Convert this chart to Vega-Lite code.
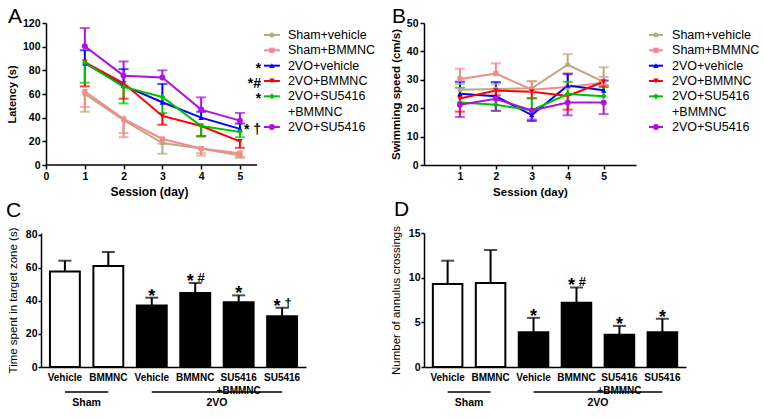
{
  "$schema": "https://vega.github.io/schema/vega-lite/v6.json",
  "background": "white",
  "padding": {"left": 6, "top": 6, "right": 0, "bottom": 0},
  "config": {
    "font": "Liberation Sans",
    "view": {"stroke": null},
    "legend": {"disable": true},
    "axis": {"grid": false, "labelOverlap": false, "labelFont": "Liberation Sans", "labelFontWeight": "bold", "labelFontSize": 10.5, "labelColor": "black", "titleFont": "Liberation Sans", "titleFontWeight": "bold", "titleFontSize": 12, "titleColor": "black", "domainColor": "black", "domainWidth": 1.5, "tickColor": "black", "tickWidth": 1.5, "tickSize": 4, "labelPadding": 2, "titlePadding": 5},
    "title": {"font": "Liberation Sans", "fontWeight": "normal", "fontSize": 21, "color": "black", "anchor": "start", "frame": "group", "offset": 0},
    "text": {"font": "Liberation Sans", "color": "black"}
  },
  "datasets": {
    "latency": [
      {"group": "Sham+vehicle", "day": 1, "mean": 60, "err": 45}, {"group": "Sham+vehicle", "day": 2, "mean": 38, "err": 27}, {"group": "Sham+vehicle", "day": 3, "mean": 18.5, "err": 9.5}, {"group": "Sham+vehicle", "day": 4, "mean": 14, "err": 10}, {"group": "Sham+vehicle", "day": 5, "mean": 8, "err": 6},
      {"group": "Sham+BMMNC", "day": 1, "mean": 62, "err": 49}, {"group": "Sham+BMMNC", "day": 2, "mean": 39, "err": 23.5}, {"group": "Sham+BMMNC", "day": 3, "mean": 22, "err": 18}, {"group": "Sham+BMMNC", "day": 4, "mean": 14, "err": 8}, {"group": "Sham+BMMNC", "day": 5, "mean": 10, "err": 7},
      {"group": "2VO+vehicle", "day": 1, "mean": 86, "err": 97}, {"group": "2VO+vehicle", "day": 2, "mean": 67, "err": 81}, {"group": "2VO+vehicle", "day": 3, "mean": 53, "err": 68.5}, {"group": "2VO+vehicle", "day": 4, "mean": 40, "err": 45}, {"group": "2VO+vehicle", "day": 5, "mean": 30.5, "err": 35},
      {"group": "2VO+BMMNC", "day": 1, "mean": 87, "err": 66.5}, {"group": "2VO+BMMNC", "day": 2, "mean": 69, "err": 56}, {"group": "2VO+BMMNC", "day": 3, "mean": 41.5, "err": 34}, {"group": "2VO+BMMNC", "day": 4, "mean": 33, "err": 24.5}, {"group": "2VO+BMMNC", "day": 5, "mean": 20, "err": 14.5},
      {"group": "2VO+SU5416+BMMNC", "day": 1, "mean": 86.5, "err": 69.5}, {"group": "2VO+SU5416+BMMNC", "day": 2, "mean": 66, "err": 52}, {"group": "2VO+SU5416+BMMNC", "day": 3, "mean": 57.5, "err": 44}, {"group": "2VO+SU5416+BMMNC", "day": 4, "mean": 33, "err": 24}, {"group": "2VO+SU5416+BMMNC", "day": 5, "mean": 28, "err": 23.4},
      {"group": "2VO+SU5416", "day": 1, "mean": 100.3, "err": 115.8}, {"group": "2VO+SU5416", "day": 2, "mean": 75.5, "err": 87.5}, {"group": "2VO+SU5416", "day": 3, "mean": 74, "err": 80}, {"group": "2VO+SU5416", "day": 4, "mean": 46.8, "err": 57.2}, {"group": "2VO+SU5416", "day": 5, "mean": 37.5, "err": 44}
    ],
    "speed": [
      {"group": "Sham+vehicle", "day": 1, "mean": 26.5, "err": 28.5}, {"group": "Sham+vehicle", "day": 2, "mean": 26.8, "err": 28.5}, {"group": "Sham+vehicle", "day": 3, "mean": 27, "err": 29.5}, {"group": "Sham+vehicle", "day": 4, "mean": 35.3, "err": 39}, {"group": "Sham+vehicle", "day": 5, "mean": 29.3, "err": 34.4},
      {"group": "Sham+BMMNC", "day": 1, "mean": 30.3, "err": 33.9}, {"group": "Sham+BMMNC", "day": 2, "mean": 32.2, "err": 35.8}, {"group": "Sham+BMMNC", "day": 3, "mean": 26.5, "err": 29.5}, {"group": "Sham+BMMNC", "day": 4, "mean": 27.5, "err": 32.4}, {"group": "Sham+BMMNC", "day": 5, "mean": 29, "err": 31},
      {"group": "2VO+vehicle", "day": 1, "mean": 25.1, "err": 29.3}, {"group": "2VO+vehicle", "day": 2, "mean": 24.2, "err": 29.2}, {"group": "2VO+vehicle", "day": 3, "mean": 17.6, "err": 15.5}, {"group": "2VO+vehicle", "day": 4, "mean": 28, "err": 32}, {"group": "2VO+vehicle", "day": 5, "mean": 26.3, "err": 29.7},
      {"group": "2VO+BMMNC", "day": 1, "mean": 23.4, "err": 18.8}, {"group": "2VO+BMMNC", "day": 2, "mean": 26.2, "err": 24.5}, {"group": "2VO+BMMNC", "day": 3, "mean": 25.8, "err": 23.5}, {"group": "2VO+BMMNC", "day": 4, "mean": 24.3, "err": 19.5}, {"group": "2VO+BMMNC", "day": 5, "mean": 29.3, "err": 27.5},
      {"group": "2VO+SU5416+BMMNC", "day": 1, "mean": 22, "err": 27.2}, {"group": "2VO+SU5416+BMMNC", "day": 2, "mean": 21.2, "err": 19}, {"group": "2VO+SU5416+BMMNC", "day": 3, "mean": 19.3, "err": 23.5}, {"group": "2VO+SU5416+BMMNC", "day": 4, "mean": 25, "err": 29.3}, {"group": "2VO+SU5416+BMMNC", "day": 5, "mean": 24.2, "err": 28.1},
      {"group": "2VO+SU5416", "day": 1, "mean": 21.2, "err": 16.9}, {"group": "2VO+SU5416", "day": 2, "mean": 23.3, "err": 19.1}, {"group": "2VO+SU5416", "day": 3, "mean": 19.2, "err": 16}, {"group": "2VO+SU5416", "day": 4, "mean": 22, "err": 17.5}, {"group": "2VO+SU5416", "day": 5, "mean": 22, "err": 17.9}
    ],
    "legend": [
      {"slot": "Sham+vehicle", "group": "Sham+vehicle", "label": "Sham+vehicle", "star": ""},
      {"slot": "Sham+BMMNC", "group": "Sham+BMMNC", "label": "Sham+BMMNC", "star": ""},
      {"slot": "2VO+vehicle", "group": "2VO+vehicle", "label": "2VO+vehicle", "star": "*"},
      {"slot": "2VO+BMMNC", "group": "2VO+BMMNC", "label": "2VO+BMMNC", "star": "*#"},
      {"slot": "2VO+SU5416+BMMNC", "group": "2VO+SU5416+BMMNC", "label": "2VO+SU5416", "star": "*"},
      {"slot": "cont", "label": "+BMMNC", "star": ""},
      {"slot": "2VO+SU5416", "group": "2VO+SU5416", "label": "2VO+SU5416", "star": "* †"}
    ],
    "target": [
      {"cond": "Sham|Vehicle", "model": "Sham", "mean": 57.8, "err": 64.4, "s1": "", "s2": ""},
      {"cond": "Sham|BMMNC", "model": "Sham", "mean": 61.2, "err": 69.7, "s1": "", "s2": ""},
      {"cond": "2VO|Vehicle", "model": "2VO", "mean": 37.2, "err": 42, "s1": "*", "s2": ""},
      {"cond": "2VO|BMMNC", "model": "2VO", "mean": 44.8, "err": 50.9, "s1": "*", "s2": "#"},
      {"cond": "2VO|SU5416|+BMMNC", "model": "2VO", "mean": 39.2, "err": 43.4, "s1": "*", "s2": ""},
      {"cond": "2VO|SU5416", "model": "2VO", "mean": 30.7, "err": 35.9, "s1": "*", "s2": "†"}
    ],
    "annulus": [
      {"cond": "Sham|Vehicle", "model": "Sham", "mean": 9.3, "err": 11.9, "s1": "", "s2": ""},
      {"cond": "Sham|BMMNC", "model": "Sham", "mean": 9.4, "err": 13.1, "s1": "", "s2": ""},
      {"cond": "2VO|Vehicle", "model": "2VO", "mean": 3.9, "err": 5.5, "s1": "*", "s2": ""},
      {"cond": "2VO|BMMNC", "model": "2VO", "mean": 7.2, "err": 8.9, "s1": "*", "s2": "#"},
      {"cond": "2VO|SU5416|+BMMNC", "model": "2VO", "mean": 3.6, "err": 4.6, "s1": "*", "s2": ""},
      {"cond": "2VO|SU5416", "model": "2VO", "mean": 3.9, "err": 5.4, "s1": "*", "s2": ""}
    ],
    "brackets": [
      {"grp": "Sham", "from": "Sham|Vehicle", "to": "Sham|BMMNC", "mid": "Sham|BMMNC"},
      {"grp": "2VO", "from": "2VO|Vehicle", "to": "2VO|SU5416", "mid": "2VO|SU5416|+BMMNC"}
    ]
  },
  "resolve": {"scale": {"x": "independent", "y": "independent"}},
  "bounds": "flush",
  "columns": 2,
  "spacing": {"row": 68, "column": 118},
  "concat": [
    {
      "width": 216, "height": 142,
      "title": {"text": "A", "dx": -33, "dy": 13},
      "resolve": {"scale": {"x": "independent", "y": "independent"}},
      "layer": [
        {
          "data": {"name": "latency"},
          "layer": [
            {"mark": {"type": "rule", "strokeWidth": 2},
             "encoding": {
               "x": {"field": "day", "type": "quantitative", "scale": {"domain": [-0.13, 5.44], "nice": false, "zero": false}, "axis": {"values": [0, 1, 2, 3, 4, 5], "format": "d", "title": "Session (day)", "domain": false, "titleFontSize": 12, "labelOverlap": false}},
               "y": {"field": "mean", "type": "quantitative", "scale": {"domain": [0, 120], "nice": false}, "axis": {"tickCount": 6, "format": "d", "title": "Latency (s)", "offset": -5, "titleFontSize": 11, "labelOverlap": false}},
               "y2": {"field": "err"},
               "color": {"field": "group", "type": "nominal", "scale": {"domain": ["Sham+vehicle", "Sham+BMMNC", "2VO+vehicle", "2VO+BMMNC", "2VO+SU5416+BMMNC", "2VO+SU5416"], "range": ["#b8ab80", "#f48a8a", "#0000ff", "#ff0000", "#00c000", "#b010e0"]}}
             }},
            {"mark": {"type": "tick", "orient": "horizontal", "size": 10, "thickness": 2},
             "encoding": {"x": {"field": "day", "type": "quantitative"}, "y": {"field": "err", "type": "quantitative"}, "color": {"field": "group", "type": "nominal"}}},
            {"mark": {"type": "line", "strokeWidth": 2},
             "encoding": {"x": {"field": "day", "type": "quantitative"}, "y": {"field": "mean", "type": "quantitative"}, "color": {"field": "group", "type": "nominal"}}},
            {"mark": {"type": "point", "filled": true, "opacity": 1},
             "encoding": {"x": {"field": "day", "type": "quantitative"}, "y": {"field": "mean", "type": "quantitative"}, "color": {"field": "group", "type": "nominal"},
               "shape": {"field": "group", "type": "nominal", "scale": {"domain": ["Sham+vehicle", "Sham+BMMNC", "2VO+vehicle", "2VO+BMMNC", "2VO+SU5416+BMMNC", "2VO+SU5416"], "range": ["circle", "square", "triangle-up", "triangle-down", "diamond", "circle"]}},
               "size": {"field": "group", "type": "nominal", "scale": {"domain": ["Sham+vehicle", "Sham+BMMNC", "2VO+vehicle", "2VO+BMMNC", "2VO+SU5416+BMMNC", "2VO+SU5416"], "range": [25, 36, 40, 40, 40, 80]}}}},
            {"data": {"values": [{}]}, "mark": {"type": "rule", "color": "black", "strokeWidth": 1.5},
             "encoding": {"x": {"datum": 0}, "x2": {"datum": 5.44}, "y": {"datum": 0}}}
          ]
        },
        {
          "data": {"name": "legend"},
          "layer": [
            {"transform": [{"filter": "isValid(datum.group)"}], "mark": {"type": "rule", "strokeWidth": 2},
             "encoding": {
               "x": {"datum": 10.32, "scale": {"domain": [0, 10], "nice": false, "zero": false}, "axis": null},
               "x2": {"datum": 11.06},
               "y": {"field": "slot", "type": "nominal", "scale": {"type": "point", "domain": ["Sham+vehicle", "Sham+BMMNC", "2VO+vehicle", "2VO+BMMNC", "2VO+SU5416+BMMNC", "cont", "2VO+SU5416"], "range": [12, 104], "padding": 0}, "axis": null},
               "color": {"field": "group", "type": "nominal"}}},
            {"transform": [{"filter": "isValid(datum.group)"}], "mark": {"type": "point", "filled": true, "opacity": 1},
             "encoding": {"x": {"datum": 10.69}, "y": {"field": "slot", "type": "nominal"}, "color": {"field": "group", "type": "nominal"}, "shape": {"field": "group", "type": "nominal"}, "size": {"field": "group", "type": "nominal"}}},
            {"mark": {"type": "text", "align": "left", "baseline": "middle", "fontSize": 12.5},
             "encoding": {"x": {"datum": 11.43}, "y": {"field": "slot", "type": "nominal"}, "text": {"field": "label"}}},
            {"mark": {"type": "text", "align": "right", "baseline": "middle", "fontSize": 14, "fontWeight": "bold", "dy": 3},
             "encoding": {"x": {"datum": 10.19}, "y": {"field": "slot", "type": "nominal"}, "text": {"field": "star"}}}
          ]
        }
      ]
    },
    {
      "width": 212, "height": 142,
      "title": {"text": "B", "dx": -32, "dy": 13},
      "resolve": {"scale": {"x": "independent", "y": "independent"}},
      "layer": [
        {
          "data": {"name": "speed"},
          "layer": [
            {"mark": {"type": "rule", "strokeWidth": 2},
             "encoding": {
               "x": {"field": "day", "type": "quantitative", "scale": {"domain": [0, 5.9], "nice": false, "zero": false}, "axis": {"values": [1, 2, 3, 4, 5], "format": "d", "title": "Session (day)", "titleFontSize": 11.5, "labelOverlap": false}},
               "y": {"field": "mean", "type": "quantitative", "scale": {"domain": [0, 50], "nice": false}, "axis": {"tickCount": 5, "format": "d", "title": "Swimming speed (cm/s)", "titleFontSize": 11.5, "labelOverlap": false}},
               "y2": {"field": "err"},
               "color": {"field": "group", "type": "nominal"}}},
            {"mark": {"type": "tick", "orient": "horizontal", "size": 10, "thickness": 2},
             "encoding": {"x": {"field": "day", "type": "quantitative"}, "y": {"field": "err", "type": "quantitative"}, "color": {"field": "group", "type": "nominal"}}},
            {"mark": {"type": "line", "strokeWidth": 2},
             "encoding": {"x": {"field": "day", "type": "quantitative"}, "y": {"field": "mean", "type": "quantitative"}, "color": {"field": "group", "type": "nominal"}}},
            {"mark": {"type": "point", "filled": true, "opacity": 1},
             "encoding": {"x": {"field": "day", "type": "quantitative"}, "y": {"field": "mean", "type": "quantitative"}, "color": {"field": "group", "type": "nominal"}, "shape": {"field": "group", "type": "nominal"}, "size": {"field": "group", "type": "nominal"}}}
          ]
        },
        {
          "data": {"name": "legend"},
          "layer": [
            {"transform": [{"filter": "isValid(datum.group)"}], "mark": {"type": "rule", "strokeWidth": 2},
             "encoding": {
               "x": {"datum": 10.61, "scale": {"domain": [0, 10], "nice": false, "zero": false}, "axis": null},
               "x2": {"datum": 11.27},
               "y": {"field": "slot", "type": "nominal", "scale": {"type": "point", "domain": ["Sham+vehicle", "Sham+BMMNC", "2VO+vehicle", "2VO+BMMNC", "2VO+SU5416+BMMNC", "cont", "2VO+SU5416"], "range": [12, 104], "padding": 0}, "axis": null},
               "color": {"field": "group", "type": "nominal"}}},
            {"transform": [{"filter": "isValid(datum.group)"}], "mark": {"type": "point", "filled": true, "opacity": 1},
             "encoding": {"x": {"datum": 10.94}, "y": {"field": "slot", "type": "nominal"}, "color": {"field": "group", "type": "nominal"}, "shape": {"field": "group", "type": "nominal"}, "size": {"field": "group", "type": "nominal"}}},
            {"mark": {"type": "text", "align": "left", "baseline": "middle", "fontSize": 12.5},
             "encoding": {"x": {"datum": 11.7}, "y": {"field": "slot", "type": "nominal"}, "text": {"field": "label"}}}
          ]
        }
      ]
    },
    {
      "width": 265, "height": 134,
      "title": {"text": "C", "dx": -35, "dy": -2},
      "layer": [
        {"data": {"name": "target"}, "mark": {"type": "bar", "stroke": "black", "strokeWidth": 2},
         "encoding": {
           "x": {"field": "cond", "type": "nominal", "scale": {"domain": ["Sham|Vehicle", "Sham|BMMNC", "2VO|Vehicle", "2VO|BMMNC", "2VO|SU5416|+BMMNC", "2VO|SU5416"], "paddingInner": 0.312, "paddingOuter": 0.206}, "axis": {"title": null, "labelExpr": "slice(split(datum.value, '|'), 1)", "ticks": false, "labelPadding": 5, "labelAngle": 0, "labelFontSize": 10, "labelLineHeight": 13, "labelOverlap": false}},
           "y": {"field": "mean", "type": "quantitative", "scale": {"domain": [0, 81.2], "nice": false}, "axis": {"tickCount": 4, "format": "d", "title": "Time spent in target zone (s)", "titleFontWeight": "normal", "titleFontSize": 11.5, "titlePadding": 7, "tickSize": 3, "labelPadding": 1, "labelOverlap": false}},
           "fill": {"field": "model", "type": "nominal", "scale": {"domain": ["Sham", "2VO"], "range": ["white", "black"]}}}},
        {"data": {"name": "target"}, "mark": {"type": "rule", "strokeWidth": 2, "color": "black"},
         "encoding": {"x": {"field": "cond", "type": "nominal"}, "y": {"field": "mean", "type": "quantitative"}, "y2": {"field": "err"}}},
        {"data": {"name": "target"}, "mark": {"type": "tick", "size": 13, "thickness": 2, "color": "black"},
         "encoding": {"x": {"field": "cond", "type": "nominal"}, "y": {"field": "err", "type": "quantitative"}}},
        {"data": {"name": "target"}, "transform": [{"filter": "datum.s1 != '' && datum.s2 == ''"}], "mark": {"type": "text", "fontSize": 18, "fontWeight": "bold", "baseline": "alphabetic", "dy": 4},
         "encoding": {"x": {"field": "cond", "type": "nominal"}, "y": {"field": "err", "type": "quantitative"}, "text": {"field": "s1"}}},
        {"data": {"name": "target"}, "transform": [{"filter": "datum.s2 != ''"}], "mark": {"type": "text", "fontSize": 18, "fontWeight": "bold", "baseline": "alphabetic", "dy": 4, "dx": -5},
         "encoding": {"x": {"field": "cond", "type": "nominal"}, "y": {"field": "err", "type": "quantitative"}, "text": {"field": "s1"}}},
        {"data": {"name": "target"}, "transform": [{"filter": "datum.s2 != ''"}], "mark": {"type": "text", "fontSize": 13, "fontWeight": "bold", "baseline": "alphabetic", "dy": -1, "dx": 6},
         "encoding": {"x": {"field": "cond", "type": "nominal"}, "y": {"field": "err", "type": "quantitative"}, "text": {"field": "s2"}}},
        {"data": {"name": "brackets"}, "mark": {"type": "rule", "strokeWidth": 1.5, "color": "black"},
         "encoding": {"x": {"field": "from", "type": "nominal", "bandPosition": 0.5}, "x2": {"field": "to", "bandPosition": 0.5}, "y": {"datum": -15.15}}},
        {"data": {"name": "brackets"}, "mark": {"type": "text", "fontSize": 10.5, "fontWeight": "bold", "baseline": "middle", "dx": -21.7},
         "encoding": {"x": {"field": "mid", "type": "nominal"}, "y": {"datum": -21.8}, "text": {"field": "grp"}}}
      ]
    },
    {
      "width": 262, "height": 134,
      "title": {"text": "D", "dx": -30, "dy": -2},
      "layer": [
        {"data": {"name": "annulus"}, "mark": {"type": "bar", "stroke": "black", "strokeWidth": 2},
         "encoding": {
           "x": {"field": "cond", "type": "nominal", "scale": {"domain": ["Sham|Vehicle", "Sham|BMMNC", "2VO|Vehicle", "2VO|BMMNC", "2VO|SU5416|+BMMNC", "2VO|SU5416"], "paddingInner": 0.312, "paddingOuter": 0.206}, "axis": {"title": null, "labelExpr": "slice(split(datum.value, '|'), 1)", "ticks": false, "labelPadding": 5, "labelAngle": 0, "labelFontSize": 10, "labelLineHeight": 13, "labelOverlap": false}},
           "y": {"field": "mean", "type": "quantitative", "scale": {"domain": [0, 15], "nice": false}, "axis": {"tickCount": 3, "format": "d", "title": "Number of annulus crossings", "titleFontWeight": "normal", "titleFontSize": 11.5, "titlePadding": 7, "tickSize": 3, "labelPadding": 1, "labelOverlap": false}},
           "fill": {"field": "model", "type": "nominal"}}},
        {"data": {"name": "annulus"}, "mark": {"type": "rule", "strokeWidth": 2, "color": "black"},
         "encoding": {"x": {"field": "cond", "type": "nominal"}, "y": {"field": "mean", "type": "quantitative"}, "y2": {"field": "err"}}},
        {"data": {"name": "annulus"}, "mark": {"type": "tick", "size": 13, "thickness": 2, "color": "black"},
         "encoding": {"x": {"field": "cond", "type": "nominal"}, "y": {"field": "err", "type": "quantitative"}}},
        {"data": {"name": "annulus"}, "transform": [{"filter": "datum.s1 != '' && datum.s2 == ''"}], "mark": {"type": "text", "fontSize": 18, "fontWeight": "bold", "baseline": "alphabetic", "dy": 4},
         "encoding": {"x": {"field": "cond", "type": "nominal"}, "y": {"field": "err", "type": "quantitative"}, "text": {"field": "s1"}}},
        {"data": {"name": "annulus"}, "transform": [{"filter": "datum.s2 != ''"}], "mark": {"type": "text", "fontSize": 18, "fontWeight": "bold", "baseline": "alphabetic", "dy": 4, "dx": -5},
         "encoding": {"x": {"field": "cond", "type": "nominal"}, "y": {"field": "err", "type": "quantitative"}, "text": {"field": "s1"}}},
        {"data": {"name": "annulus"}, "transform": [{"filter": "datum.s2 != ''"}], "mark": {"type": "text", "fontSize": 13, "fontWeight": "bold", "baseline": "alphabetic", "dy": -1, "dx": 6},
         "encoding": {"x": {"field": "cond", "type": "nominal"}, "y": {"field": "err", "type": "quantitative"}, "text": {"field": "s2"}}},
        {"data": {"name": "brackets"}, "mark": {"type": "rule", "strokeWidth": 1.5, "color": "black"},
         "encoding": {"x": {"field": "from", "type": "nominal", "bandPosition": 0.5}, "x2": {"field": "to", "bandPosition": 0.5}, "y": {"datum": -2.8}}},
        {"data": {"name": "brackets"}, "mark": {"type": "text", "fontSize": 10.5, "fontWeight": "bold", "baseline": "middle", "dx": -21.5},
         "encoding": {"x": {"field": "mid", "type": "nominal"}, "y": {"datum": -4.03}, "text": {"field": "grp"}}}
      ]
    }
  ]
}
